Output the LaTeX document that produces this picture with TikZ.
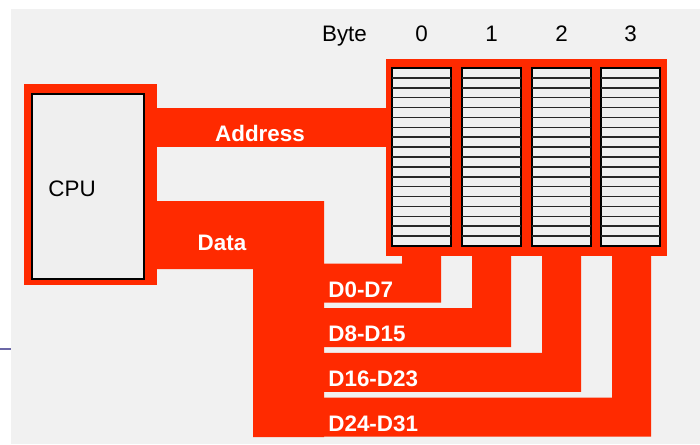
\documentclass[tikz,border=0pt]{standalone}
\usepackage{fontspec}
\setmainfont{Liberation Sans}
\usetikzlibrary{positioning}
\definecolor{busred}{HTML}{FF2A00}
\definecolor{slidegray}{HTML}{F1F1F1}
\definecolor{cellgray}{HTML}{EFEFEF}
\definecolor{rulepurple}{HTML}{6B67A6}
\tikzset{
  bus/.style={fill=busred,draw=none},
  buslabel/.style={font=\fontsize{11.2}{13}\selectfont\bfseries,text=white,inner sep=0pt},
  plainlabel/.style={font=\fontsize{11.2}{13}\selectfont,text=black,inner sep=0pt},
  cellcol/.style={fill=cellgray,draw=black,line width=0.8pt},
  cellrule/.style={draw=black!85,line width=0.75pt}
}

\begin{document}
\begin{tikzpicture}[x=0.5pt,y=-0.5pt]
  \useasboundingbox (0,0) rectangle (700,444);
  \fill[slidegray] (11,9) rectangle (700,444);
  \draw[rulepurple,line width=1.3pt] (0,349) -- (11,349);

  % cpu
  \fill[bus] (24,84) rectangle (157,285);
  \draw[cellcol,line width=0.9pt] (32,94) rectangle (144,279);
  \node[plainlabel,anchor=base west] (cpu) at (48,196) {CPU};

  % address bus
  \fill[bus] (157,108) rectangle (386,147);
  \node[buslabel,anchor=base] (addr) at (260,141) {Address};

  % data bus
  \fill[bus] (157,201) -- (324,201) -- (324,437) -- (253,437) -- (253,269) -- (157,269) -- cycle;
  \node[buslabel,anchor=base] (data) at (222,250) {Data};

  % byte lanes
  \foreach \i/\lab in {0/D0-D7,1/D8-D15,2/D16-D23,3/D24-D31} {
    \pgfmathsetmacro\lx{402+70*\i}
    \pgfmathsetmacro\rx{441+70*\i}
    \pgfmathsetmacro\ty{263.5+44.7*\i}
    \pgfmathsetmacro\by{\ty+39}
    \fill[bus] (324,\ty) -- (\lx,\ty) -- (\lx,250) -- (\rx,250) -- (\rx,\by) -- (324,\by) -- cycle;
    \node[buslabel,anchor=base west] (lane\i) at (328,\ty+33.5) {\lab};
  }

  % memory
  \fill[bus] (386,59) rectangle (667,256);
  \node[plainlabel,anchor=base] (bytehdr) at (344.5,42) {Byte};
  \foreach \i/\x in {0/392,1/462,2/532,3/601} {
    \draw[cellcol] (\x,68) rectangle +(59,178);
    \foreach \r in {1,...,17} {
      \draw[cellrule] (\x,68+9.89*\r) -- +(59,0);
    }
    \node[plainlabel,anchor=base] (byte\i) at (\x+29.5,42) {\i};
  }
\end{tikzpicture}
\end{document}
